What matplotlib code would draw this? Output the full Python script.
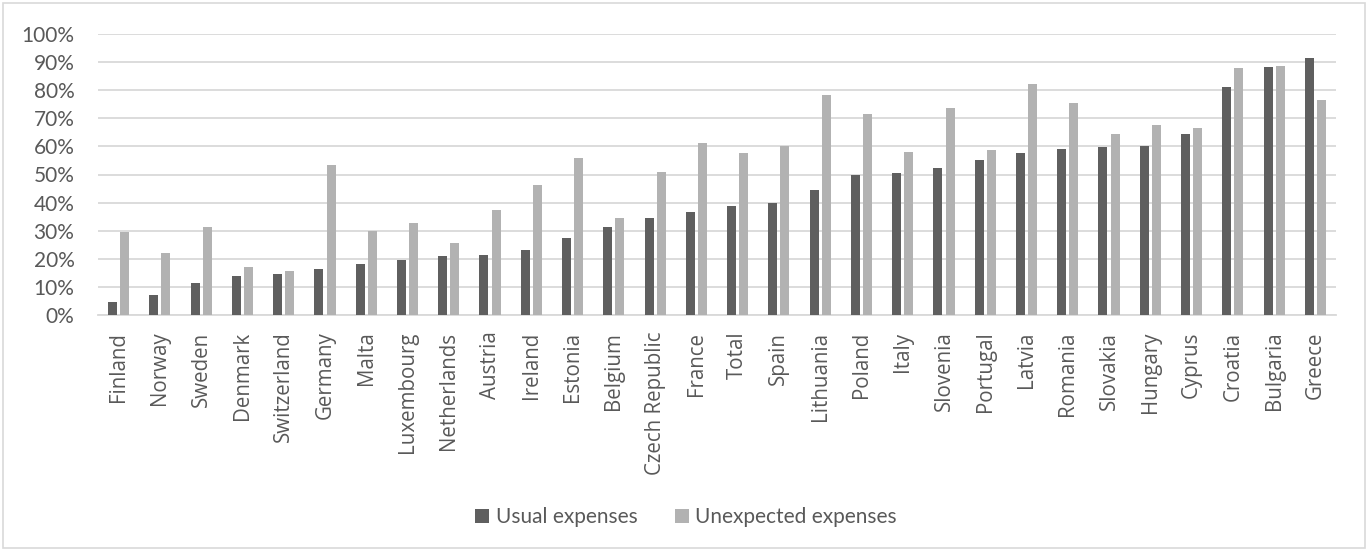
import numpy as np
import matplotlib
matplotlib.use("Agg")
from matplotlib import pyplot as plt
from matplotlib.patches import Rectangle

countries = ["Finland", "Norway", "Sweden", "Denmark", "Switzerland", "Germany", "Malta",
             "Luxembourg", "Netherlands", "Austria", "Ireland", "Estonia", "Belgium",
             "Czech Republic", "France", "Total", "Spain", "Lithuania", "Poland", "Italy",
             "Slovenia", "Portugal", "Latvia", "Romania", "Slovakia", "Hungary", "Cyprus",
             "Croatia", "Bulgaria", "Greece"]

usual = [4.5, 7.2, 11.3, 14.0, 14.6, 16.4, 18.2, 19.6, 21.0, 21.4, 23.0, 27.3, 31.4,
         34.6, 36.7, 38.8, 39.7, 44.4, 50.0, 50.4, 52.4, 55.3, 57.7, 59.0, 59.7, 60.2,
         64.5, 81.1, 88.2, 91.6]
unexpected = [29.7, 22.1, 31.4, 17.0, 15.8, 53.3, 29.8, 32.9, 25.5, 37.5, 46.2, 55.9, 34.4,
              50.8, 61.2, 57.7, 60.1, 78.4, 71.7, 58.0, 73.6, 58.7, 82.2, 75.5, 64.5, 67.6,
              66.7, 87.9, 88.7, 76.6]
yticks = list(range(0, 101, 10))

dark = "#5f5f5f"
light = "#b2b2b2"
gridc = "#d9d9d9"
txt = "#595959"

fig = plt.figure(figsize=(13.68, 5.51), dpi=100)
ax = fig.add_axes([98/1368, 1 - 315/551, (1336 - 98)/1368, (315 - 34)/551])

x = np.arange(len(countries))
w = 0.218
ax.bar(x - 0.147, usual, w, color=dark, label="Usual expenses", zorder=3)
ax.bar(x + 0.147, unexpected, w, color=light, label="Unexpected expenses", zorder=3)

ax.set_xlim(-0.5, len(countries) - 0.5)
ax.set_ylim(0, 100)
ax.set_yticks(yticks)
ax.set_yticklabels([f"{t}%" for t in yticks], fontfamily="Lato", fontsize=15, color=txt)
ax.set_xticks(x)
ax.set_xticklabels(countries, rotation=90, fontfamily="Open Sans", fontsize=14.8, color=txt)
ax.tick_params(axis="y", length=0, pad=17)
ax.tick_params(axis="x", length=0, pad=12)
ax.grid(axis="y", color=gridc, linewidth=1.3)
ax.set_axisbelow(True)
for s in ["top", "right", "left"]:
    ax.spines[s].set_visible(False)
ax.spines["bottom"].set_color(gridc)
ax.spines["bottom"].set_linewidth(1.3)

fig.legend(loc="center", bbox_to_anchor=(686/1368, 1 - 517/551), ncol=2, frameon=False,
           prop={"family": "Lato", "size": 15}, labelcolor=txt,
           handlelength=0.67, handleheight=0.67, handletextpad=0.3, columnspacing=1.8)

fig.patches.append(Rectangle((3/1368, 3/551), 1362/1368, 545/551, transform=fig.transFigure,
                             fill=False, edgecolor=gridc, linewidth=1.2))

fig.savefig("out.png", dpi=100)
